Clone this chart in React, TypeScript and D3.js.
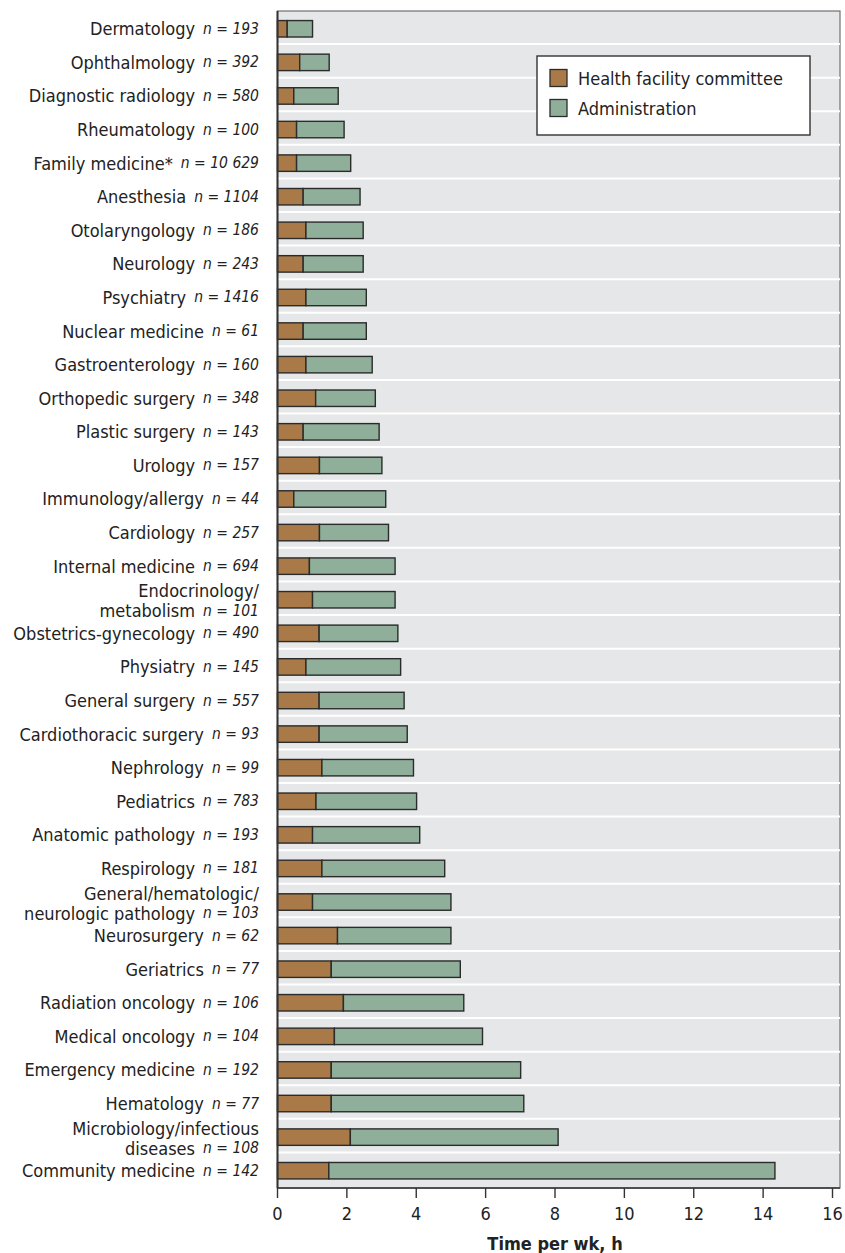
import React from 'react';
import * as d3 from 'd3';

// Time spent per week on committee work vs administration, by specialty

const specialties = [
  'Dermatology', 'Ophthalmology', 'Diagnostic radiology', 'Rheumatology', 'Family medicine*',
  'Anesthesia', 'Otolaryngology', 'Neurology', 'Psychiatry', 'Nuclear medicine',
  'Gastroenterology', 'Orthopedic surgery', 'Plastic surgery', 'Urology', 'Immunology/allergy',
  'Cardiology', 'Internal medicine', 'Endocrinology/\nmetabolism', 'Obstetrics-gynecology', 'Physiatry',
  'General surgery', 'Cardiothoracic surgery', 'Nephrology', 'Pediatrics', 'Anatomic pathology',
  'Respirology', 'General/hematologic/\nneurologic pathology', 'Neurosurgery', 'Geriatrics', 'Radiation oncology',
  'Medical oncology', 'Emergency medicine', 'Hematology', 'Microbiology/infectious\ndiseases', 'Community medicine',
];

const sampleSizes = [
  '193', '392', '580', '100', '10 629',
  '1104', '186', '243', '1416', '61',
  '160', '348', '143', '157', '44',
  '257', '694', '101', '490', '145',
  '557', '93', '99', '783', '193',
  '181', '103', '62', '77', '106',
  '104', '192', '77', '108', '142',
];

const healthCommittee = [
  0.28, 0.64, 0.47, 0.55, 0.55,
  0.74, 0.82, 0.74, 0.82, 0.74,
  0.82, 1.10, 0.74, 1.21, 0.47,
  1.21, 0.92, 1.01, 1.20, 0.82,
  1.20, 1.20, 1.28, 1.11, 1.01,
  1.28, 1.01, 1.73, 1.55, 1.90,
  1.64, 1.55, 1.55, 2.10, 1.48,
];

const administration = [
  0.73, 0.85, 1.28, 1.37, 1.56,
  1.64, 1.65, 1.73, 1.74, 1.82,
  1.91, 1.72, 2.19, 1.80, 2.65,
  1.99, 2.47, 2.38, 2.27, 2.73,
  2.45, 2.54, 2.64, 2.90, 3.09,
  3.54, 3.99, 3.27, 3.72, 3.47,
  4.27, 5.46, 5.55, 5.99, 12.86,
];

const xTicks = [0, 2, 4, 6, 8, 10, 12, 14, 16];

const seriesNames = ['Health facility committee', 'Administration'];
const seriesColors = ['#a97a48', '#8faf9a'];

const W = 845;
const H = 1253;
const left = 277.5;
const right = 840;
const top = 11;
const bottom = 1188;
const font = '"DejaVu Sans Condensed", "Liberation Sans", sans-serif';

const App: React.FC = () => {
  const x = d3.scaleLinear().domain([0, 16]).range([left, 832.5]);
  const y = d3.scaleBand<number>()
    .domain(d3.range(specialties.length))
    .range([12, 1187.5])
    .paddingInner(0.51)
    .paddingOuter(0.255);
  const step = y.step();
  const bw = y.bandwidth();

  return (
    <div style={{ position: 'absolute', left: 0, top: 0 }}>
      <svg width={W} height={H} style={{ display: 'block' }}>
        {/* plot background */}
        <rect x={left} y={top} width={right - left} height={bottom - top} fill="#e6e7e8" stroke="#707070" strokeWidth={1.2} />

        {/* white row separators */}
        {d3.range(1, specialties.length).map((i) => {
          const yy = 12 + i * step - 1.5;
          return <line key={`sep${i}`} x1={left} x2={right} y1={yy} y2={yy} stroke="#ffffff" strokeWidth={2} />;
        })}

        {/* bars */}
        {specialties.map((_, i) => {
          const h = healthCommittee[i];
          const a = administration[i];
          const yy = y(i)!;
          return (
            <g key={`bar${i}`}>
              <rect x={x(0)} y={yy} width={x(h) - x(0)} height={bw} fill={seriesColors[0]} stroke="#2b2b2b" strokeWidth={1.4} />
              <rect x={x(h)} y={yy} width={x(h + a) - x(h)} height={bw} fill={seriesColors[1]} stroke="#2b2b2b" strokeWidth={1.4} />
            </g>
          );
        })}

        {/* axes lines */}
        <line x1={left} x2={left} y1={top} y2={bottom} stroke="#333" strokeWidth={2} />
        <line x1={left} x2={right} y1={bottom} y2={bottom} stroke="#333" strokeWidth={1.6} />
        {xTicks.map((t) => (
          <g key={`t${t}`}>
            <line x1={x(t)} x2={x(t)} y1={bottom} y2={bottom + 10} stroke="#333" strokeWidth={1.4} />
            <text x={x(t)} y={1213} textAnchor="middle" dominantBaseline="central" fontFamily={font} fontSize={18} fill="#222">
              {t}
            </text>
          </g>
        ))}
        <text x={(left + 832.5) / 2} y={1243} textAnchor="middle" dominantBaseline="central" fontFamily={font} fontSize={18} fontWeight="bold" fill="#222">
          Time per wk, h
        </text>

        {/* category labels */}
        {specialties.map((name, i) => {
          const lines = name.split('\n');
          const cy = y(i)! + bw / 2;
          const offsets = lines.length === 1 ? [0] : [-9, 11];
          return (
            <g key={`lab${i}`}>
              {lines.map((ln, j) => {
                const last = j === lines.length - 1;
                return (
                  <text key={j} x={259} y={cy + offsets[j]} textAnchor="end" dominantBaseline="central" fontFamily={font} fontSize={18} fill="#222">
                    {ln}
                    {last && (
                      <tspan dx={8} fontStyle="italic" fontSize={15.5}>
                        {`n = ${sampleSizes[i]}`}
                      </tspan>
                    )}
                  </text>
                );
              })}
            </g>
          );
        })}

        {/* legend */}
        <rect x={537} y={56} width={273} height={79} fill="#ffffff" stroke="#333" strokeWidth={1.4} />
        {seriesNames.map((s, i) => (
          <g key={`leg${i}`}>
            <rect x={550} y={69.5 + i * 30} width={17} height={17} fill={seriesColors[i]} stroke="#2b2b2b" strokeWidth={1.3} />
            <text x={578} y={78 + i * 30} dominantBaseline="central" fontFamily={font} fontSize={18} fill="#222">
              {s}
            </text>
          </g>
        ))}
      </svg>
    </div>
  );
};

export default App;
